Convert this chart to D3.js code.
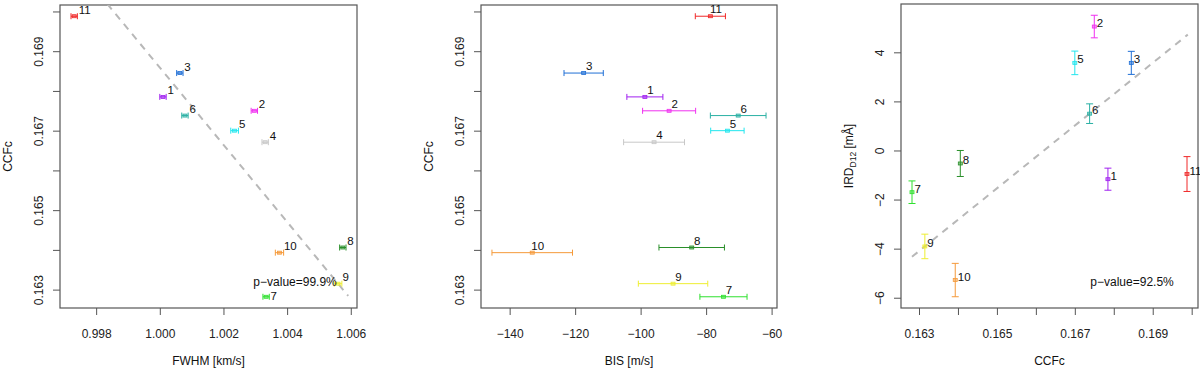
<!DOCTYPE html>
<html>
<head>
<meta charset="utf-8">
<script src="https://cdn.jsdelivr.net/npm/d3@7"></script>
<style>
  body { margin: 0; background: #fff; }
  text { font-family: "Liberation Sans", Arial, sans-serif; fill: #111; }
</style>
</head>
<body>
<svg id="chart" width="1200" height="368"></svg>
<script>
// Star / epoch ids and their colours
const ids = [1, 2, 3, 4, 5, 6, 7, 8, 9, 10, 11];
const colors = ["#a020f0", "#f030f0", "#1f6fd6", "#c8c8c8", "#22e6ee", "#2ab0a4",
                "#2ee02e", "#2a8f2a", "#eeee30", "#f59a3a", "#f02828"];

// Values
const ccfc    = [0.16785, 0.16750, 0.16845, 0.16671, 0.16700, 0.16738, 0.16282, 0.16406, 0.16315, 0.16393, 0.16988];
const fwhm    = [1.00010, 1.00297, 1.00063, 1.00331, 1.00235, 1.00079, 1.00334, 1.00575, 1.00560, 1.00376, 0.99731];
const fwhmErr = [0.00010, 0.00010, 0.00010, 0.00010, 0.00012, 0.00010, 0.00010, 0.00010, 0.00012, 0.00013, 0.00010];
const bis     = [-98.7, -91.3, -117.4, -95.9, -73.5, -70.2, -74.7, -84.4, -90.1, -133.1, -78.7];
const bisErr  = [5.5, 8.1, 6.0, 9.3, 5.1, 8.5, 7.2, 10.0, 10.6, 12.3, 4.6];
const ird     = [-1.17, 5.05, 3.57, null, 3.57, 1.50, -1.70, -0.53, -3.91, -5.28, -0.96];
const irdErr  = [0.45, 0.46, 0.47, null, 0.48, 0.40, 0.46, 0.53, 0.50, 0.68, 0.71];

// Fitted trend lines (endpoints in data units)
const fwhmFitX = [0.99731, 1.00592];
const fwhmFitY = [0.17120, 0.16284];
const irdFitX  = [0.16282, 0.16990];
const irdFitY  = [-4.33, 4.72];

// Tick values
const fwhmTicks = [0.998, 1.000, 1.002, 1.004, 1.006];
const ccfcTicks = [0.163, 0.164, 0.165, 0.166, 0.167, 0.168, 0.169, 0.170];
const ccfcLabels = [0.163, 0.165, 0.167, 0.169];
const bisTicks = [-140, -120, -100, -80, -60];
const irdTicks = [-6, -4, -2, 0, 2, 4];

const pTexts = ["p−value=99.9%", "p−value=92.5%"];

const rows = ids.map((id, i) => ({
  id, color: colors[i], ccfc: ccfc[i], fwhm: fwhm[i], fwhmErr: fwhmErr[i],
  bis: bis[i], bisErr: bisErr[i], ird: ird[i], irdErr: irdErr[i]
}));

// R style 4% range extension
function rPad(lo, hi) {
  const d = (hi - lo) * 0.04;
  return [lo - d, hi + d];
}

const svg = d3.select("#chart");
const axisCol = "#555";
const f3 = d3.format(".3f");

function drawPanel(cfg) {
  const { box } = cfg;
  const x = d3.scaleLinear().domain(cfg.xDomain).range([box.left, box.right]);
  const y = d3.scaleLinear().domain(cfg.yDomain).range([box.bottom, box.top]);
  const g = svg.append("g");

  // X axis
  const xa = g.append("g")
    .attr("transform", `translate(0,${box.bottom})`)
    .call(d3.axisBottom(x).tickValues(cfg.xTicks).tickSize(7)
      .tickFormat(d => cfg.xLabelled(d) ? cfg.xFormat(d) : ""));
  xa.select(".domain").remove();
  xa.selectAll("line").attr("stroke", axisCol);
  xa.selectAll("text")
    .attr("y", 29.5).attr("dy", 0)
    .style("font-size", "12px").style("fill", "#222");

  // Y axis, labels parallel to the axis
  const ya = g.append("g")
    .attr("transform", `translate(${box.left},0)`)
    .call(d3.axisLeft(y).tickValues(cfg.yTicks).tickSize(7)
      .tickFormat(d => cfg.yLabelled(d) ? cfg.yFormat(d) : ""));
  ya.select(".domain").remove();
  ya.selectAll("line").attr("stroke", axisCol);
  ya.selectAll("text")
    .attr("transform", "rotate(-90)")
    .attr("x", 0).attr("y", -17.5).attr("dy", 0)
    .attr("text-anchor", "middle")
    .style("font-size", "12px").style("fill", "#222");

  // Box
  g.append("rect")
    .attr("x", box.left).attr("y", box.top)
    .attr("width", box.right - box.left).attr("height", box.bottom - box.top)
    .attr("fill", "none").attr("stroke", axisCol).attr("stroke-width", 1.2);

  // Axis titles
  g.append("text")
    .attr("x", (box.left + box.right) / 2).attr("y", 365)
    .attr("text-anchor", "middle")
    .style("font-size", "12px")
    .text(cfg.xTitle);

  const yt = g.append("text")
    .attr("transform", `translate(${box.left - 48},${(box.top + box.bottom) / 2}) rotate(-90)`)
    .attr("text-anchor", "middle")
    .style("font-size", "12px");
  cfg.yTitle(yt);

  // Trend line, clipped to the box
  const clipId = "clip" + cfg.name;
  g.append("clipPath").attr("id", clipId)
    .append("rect")
    .attr("x", box.left).attr("y", box.top)
    .attr("width", box.right - box.left).attr("height", box.bottom - box.top);

  if (cfg.fitX) {
    g.append("line")
      .attr("clip-path", `url(#${clipId})`)
      .attr("x1", x(cfg.fitX[0])).attr("y1", y(cfg.fitY[0]))
      .attr("x2", x(cfg.fitX[1])).attr("y2", y(cfg.fitY[1]))
      .attr("stroke", "#b8b8b8").attr("stroke-width", 2)
      .attr("stroke-dasharray", "7,6");
  }

  // Points with error bars
  const data = rows.filter(d => cfg.xv(d) != null && cfg.yv(d) != null);
  const pts = g.selectAll(".pt").data(data).enter()
    .append("g").attr("class", "pt");

  pts.each(function(d) {
    const p = d3.select(this);
    const cx = x(cfg.xv(d)), cy = y(cfg.yv(d));
    const e = cfg.err(d);
    if (cfg.horizontal) {
      const x0 = x(cfg.xv(d) - e), x1 = x(cfg.xv(d) + e);
      p.append("line").attr("x1", x0).attr("x2", x1).attr("y1", cy).attr("y2", cy);
      p.append("line").attr("x1", x0).attr("x2", x0).attr("y1", cy - 3).attr("y2", cy + 3);
      p.append("line").attr("x1", x1).attr("x2", x1).attr("y1", cy - 3).attr("y2", cy + 3);
    } else {
      const y0 = y(cfg.yv(d) - e), y1 = y(cfg.yv(d) + e);
      p.append("line").attr("x1", cx).attr("x2", cx).attr("y1", y0).attr("y2", y1);
      p.append("line").attr("x1", cx - 3.5).attr("x2", cx + 3.5).attr("y1", y0).attr("y2", y0);
      p.append("line").attr("x1", cx - 3.5).attr("x2", cx + 3.5).attr("y1", y1).attr("y2", y1);
    }
    p.selectAll("line").attr("stroke", d.color).attr("stroke-width", 1);
    p.append("rect")
      .attr("x", cx - 2).attr("y", cy - 1.5).attr("width", 4).attr("height", 3)
      .attr("fill", d.color).attr("fill-opacity", 0.5)
      .attr("stroke", d.color).attr("stroke-width", 0.8);
    p.append("text")
      .attr("class", "lbl")
      .attr("x", cx + cfg.labelDx).attr("y", cy + cfg.labelDy)
      .attr("text-anchor", cfg.labelAnchor)
      .style("font-size", "11.5px")
      .text(d.id);
  });

  if (cfg.pText) {
    const pt = g.append("text")
      .attr("x", x(cfg.pAt[0])).attr("y", y(cfg.pAt[1]))
      .attr("text-anchor", "end")
      .style("font-size", "12px")
      .text(cfg.pText);

    // push point labels that collide with the p-value note below it
    const pb = pt.node().getBBox();
    g.selectAll(".lbl").each(function() {
      const b = this.getBBox();
      const hit = b.x < pb.x + pb.width && b.x + b.width > pb.x &&
                  b.y < pb.y + pb.height && b.y + b.height > pb.y;
      if (hit) {
        const shift = pb.y + pb.height + 0.5 - b.y;
        d3.select(this).attr("y", +d3.select(this).attr("y") + shift);
      }
    });
  }
}

const ccfcDomain = rPad(d3.min(ccfc), d3.max(ccfc));

drawPanel({
  name: "a",
  box: { left: 60, right: 357, top: 5, bottom: 308 },
  xDomain: rPad(d3.min(fwhm, (v, i) => v - fwhmErr[i]), d3.max(fwhm, (v, i) => v + fwhmErr[i])),
  yDomain: ccfcDomain,
  xTicks: fwhmTicks, xLabelled: () => true, xFormat: f3,
  yTicks: ccfcTicks, yLabelled: d => ccfcLabels.some(v => Math.abs(v - d) < 1e-9), yFormat: f3,
  xTitle: "FWHM [km/s]",
  yTitle: t => t.text("CCFc"),
  xv: d => d.fwhm, yv: d => d.ccfc, err: d => d.fwhmErr, horizontal: true,
  labelDx: 4.5, labelDy: -2.5, labelAnchor: "start",
  fitX: fwhmFitX, fitY: fwhmFitY,
  pText: pTexts[0], pAt: [1.00556, 0.16309]
});

drawPanel({
  name: "b",
  box: { left: 481, right: 777, top: 5, bottom: 308 },
  xDomain: rPad(d3.min(bis, (v, i) => v - bisErr[i]), d3.max(bis, (v, i) => v + bisErr[i])),
  yDomain: ccfcDomain,
  xTicks: bisTicks, xLabelled: () => true, xFormat: d3.format("d"),
  yTicks: ccfcTicks, yLabelled: d => ccfcLabels.some(v => Math.abs(v - d) < 1e-9), yFormat: f3,
  xTitle: "BIS [m/s]",
  yTitle: t => t.text("CCFc"),
  xv: d => d.bis, yv: d => d.ccfc, err: d => d.bisErr, horizontal: true,
  labelDx: 5.5, labelDy: -3, labelAnchor: "middle"
});

const irdLo = d3.min(rows.filter(d => d.ird != null), d => d.ird - d.irdErr);
const irdHi = d3.max(rows.filter(d => d.ird != null), d => d.ird + d.irdErr);

drawPanel({
  name: "c",
  box: { left: 901, right: 1198, top: 4, bottom: 308 },
  xDomain: ccfcDomain,
  yDomain: rPad(irdLo, irdHi),
  xTicks: ccfcTicks, xLabelled: d => ccfcLabels.some(v => Math.abs(v - d) < 1e-9), xFormat: f3,
  yTicks: irdTicks, yLabelled: () => true, yFormat: d3.format("d"),
  xTitle: "CCFc",
  yTitle: t => {
    t.append("tspan").text("IRD");
    t.append("tspan").attr("dy", 3).style("font-size", "8.5px").text("D12");
    t.append("tspan").attr("dy", -3).text(" [mÅ]");
  },
  xv: d => d.ccfc, yv: d => d.ird, err: d => d.irdErr, horizontal: false,
  labelDx: 2.5, labelDy: 0.5, labelAnchor: "start",
  fitX: irdFitX, fitY: irdFitY,
  pText: pTexts[1], pAt: [0.16954, -5.52]
});
</script>
</body>
</html>
